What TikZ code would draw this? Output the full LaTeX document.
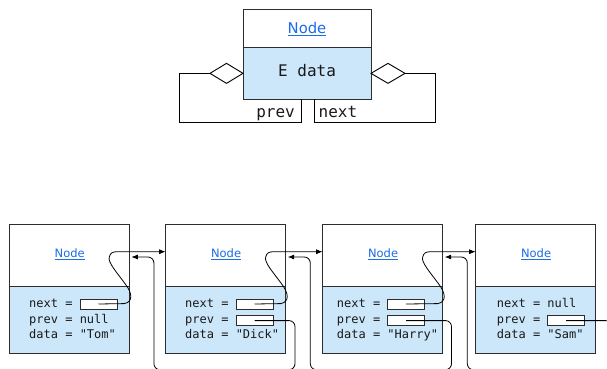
\documentclass[tikz,border=0pt]{standalone}
\usepackage{fontspec}
\setsansfont{DejaVu Sans}
\setmonofont{DejaVu Sans Mono}
\usetikzlibrary{arrows.meta,calc}
\definecolor{nodefill}{RGB}{204,231,250}
\definecolor{linkblue}{RGB}{28,108,232}
\definecolor{edgegray}{RGB}{45,45,45}
\definecolor{txt}{RGB}{25,25,25}
\begin{document}
\begin{tikzpicture}[x=1pt,y=-1pt,
  part/.style={draw=edgegray,line width=0.9pt,inner sep=0pt,outer sep=0pt},
  namepart/.style={part,fill=white,minimum width=120pt,minimum height=62pt},
  datapart/.style={part,fill=nodefill,minimum width=120pt,minimum height=67pt},
  namelabel/.style={inner sep=0pt,font=\sffamily\fontsize{11.5}{13}\selectfont,text=linkblue},
  biglabel/.style={inner sep=0pt,font=\sffamily\fontsize{14.8}{17}\selectfont,text=linkblue},
  field/.style={anchor=base west,inner sep=0pt,font=\ttfamily\fontsize{12}{14}\selectfont,text=txt},
  bigfield/.style={inner sep=0pt,font=\ttfamily\fontsize{16}{18}\selectfont,text=txt},
  ptrbox/.style={draw=edgegray,line width=0.7pt,fill=white,inner sep=0pt,minimum width=37pt,minimum height=10pt},
  ptr/.style={line width=0.8pt,draw=black},
  tip/.style={-{Latex[length=6.5pt,width=5pt]}},
  umlline/.style={line width=0.9pt,draw=black},
]
\useasboundingbox (0,0) rectangle (607,369);
\clip (0,0) rectangle (607,369);

% ---------- top: class diagram ----------
\node[part,fill=white,minimum width=128pt,minimum height=38.4pt] (topname) at (307,28.5) {};
\node[part,fill=nodefill,minimum width=128pt,minimum height=51.3pt] (topdata) at (307,73.35) {};
\node[biglabel] (toplabel) at (307,29) {\underline{Node}};
\node[bigfield] (topfield) at (307,70.5) {E data};

\coordinate (ldtip) at ($(topdata.west)+(-33,0)$);
\coordinate (rdtip) at ($(topdata.east)+(34,0)$);
\draw[umlline,fill=white] (topdata.west) -- ++(-16.5,-10) -- (ldtip) -- ++(16.5,10) -- cycle;
\draw[umlline,fill=white] (topdata.east) -- ++(17,-10) -- (rdtip) -- ++(-17,10) -- cycle;

\coordinate (lcorner) at (179.3,122.3);
\coordinate (rcorner) at (435.3,122.3);
\coordinate (pvx) at (301,122.3);
\coordinate (nxx) at (314.3,122.3);
\draw[umlline] (ldtip) -| (lcorner) -| (topdata.south -| pvx);
\draw[umlline] (rdtip) -| (rcorner) -| (topdata.south -| nxx);
\node[bigfield,anchor=base east] (prevlbl) at (295,117.5) {prev};
\node[bigfield,anchor=base west] (nextlbl) at (318.5,117.5) {next};

% ---------- bottom: linked list ----------
\foreach \i/\L in {1/9.3,2/165.7,3/322.7,4/475.7} {
  \node[namepart] (u\i) at (\L+60,255.3) {};
  \node[datapart] (d\i) at (\L+60,319.8) {};
  \node[namelabel] (t\i) at (\L+60.4,254) {\underline{Node}};
}

% node 1
\node[field] (n1) at (29,307.5) {next =};
\node[field] (p1) at (29,323) {prev = null};
\node[field] (a1) at (29,338.5) {data = "Tom"};
\node[ptrbox] (nb1) at ($(n1.base west)+(69.5,-3.5)$) {};
% node 2
\node[field] (n2) at (185,307.5) {next =};
\node[field] (p2) at (185,323) {prev =};
\node[field] (a2) at (185,338.5) {data = "Dick"};
\node[ptrbox] (nb2) at ($(n2.base west)+(69.5,-3.5)$) {};
\node[ptrbox] (pb2) at ($(p2.base west)+(69.5,-2.4)$) {};
% node 3
\node[field] (n3) at (336.7,307.5) {next =};
\node[field] (p3) at (336.7,323) {prev =};
\node[field] (a3) at (336.7,338.5) {data = "Harry"};
\node[ptrbox] (nb3) at ($(n3.base west)+(69.5,-3.5)$) {};
\node[ptrbox] (pb3) at ($(p3.base west)+(69.5,-2.4)$) {};
% node 4
\node[field] (n4) at (496.7,307.5) {next = null};
\node[field] (p4) at (496.7,323) {prev =};
\node[field] (a4) at (496.7,338.5) {data = "Sam"};
\node[ptrbox] (pb4) at ($(p4.base west)+(69.5,-2.4)$) {};

% next pointers (curl out of the box, arrow to next node)
\foreach \i/\j in {1/2,2/3,3/4} {
  \draw[ptr,tip] (nb\i.center) -- ($(d\i.north east)+(-5,17.3)$)
    .. controls ($(d\i.north east)+(4,15.7)$) and ($(d\i.north east)+(3,6.7)$) .. ($(d\i.north east)+(-4,-2.3)$)
    .. controls ($(d\i.north east)+(-12,-13.3)$) and ($(d\i.north east)+(-22,-24.3)$) .. ($(d\i.north east)+(-20,-29.3)$)
    .. controls ($(d\i.north east)+(-19,-33.3)$) and ($(d\i.north east)+(-17,-34.6)$) .. ($(d\i.north east)+(-12,-34.6)$)
    -- ($(u\j.west)+(0,-3.6)$);
}

% prev pointers (out to the right, under, arrow to previous node)
\draw[ptr,tip,rounded corners=6pt] (pb2.center) -| ($(d2.east)+(9.3,49.9)$)
  -| ($(d1.east)+(24.6,-62.8)$) -- ($(d1.east)+(2,-62.8)$);
\draw[ptr,tip,rounded corners=6pt] (pb3.center) -| ($(d3.east)+(8.8,49.9)$)
  -| ($(d2.east)+(24.6,-62.8)$) -- ($(d2.east)+(2,-62.8)$);
\draw[ptr,tip,rounded corners=6pt] (pb4.center) -| ($(d4.east)+(16,49.9)$)
  -| ($(d3.east)+(24.6,-62.8)$) -- ($(d3.east)+(2,-62.8)$);
\end{tikzpicture}
\end{document}
